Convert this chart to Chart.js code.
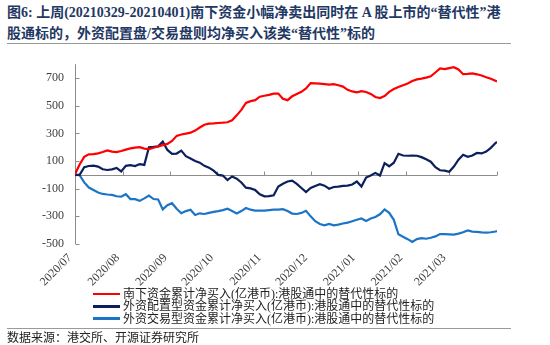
<!DOCTYPE html>
<html>
<head>
<meta charset="utf-8">
<script src="https://cdn.jsdelivr.net/npm/chart.js@4.4.1/dist/chart.umd.min.js"></script>
<style>
  body { margin: 0; width: 550px; height: 345px; background: #fff; position: relative; overflow: hidden;
         font-family: "Liberation Serif", "Noto Sans CJK SC", serif; color: #222; }
  #title { position: absolute; left: 7px; top: 2px; width: 545px; font-size: 14px; font-weight: bold;
           line-height: 21px; color: #1F3864; white-space: nowrap; }
  .rule { position: absolute; left: 7px; width: 504px; height: 1px; background: #9a9a9a; }
  #wrap { position: absolute; left: 0; top: 46px; width: 550px; height: 246px; }
  #legend { position: absolute; left: 93px; top: 288px; font-size: 12px; line-height: 12.3px; }
  #legend .row { display: flex; align-items: center; height: 12.3px; white-space: nowrap; }
  #legend .sw { width: 27px; height: 2.5px; margin-right: 3px; }
  #source { position: absolute; left: 7px; top: 332px; font-size: 12px; line-height: 13px; color: #222; }
</style>
</head>
<body>
<div id="title">图6: 上周(20210329-20210401)南下资金小幅净卖出同时在 A 股上市的“替代性”港<br>股通标的，外资配置盘/交易盘则均净买入该类“替代性”标的</div>
<div class="rule" style="top:43px"></div>
<div id="wrap"><canvas id="chart" width="550" height="246"></canvas></div>
<div id="legend"></div>
<div class="rule" style="top:328px"></div>
<div id="source">数据来源：港交所、开源证券研究所</div>

<script>
// x = calendar days since 2020-07-01, sampled every 3 days (last point = 2021-04-01)
const DAYS = [];
for (let d = 0; d <= 273; d += 3) DAYS.push(d);
DAYS.push(274);

const MONTH_DAYS = [0, 31, 62, 92, 123, 153, 184, 215, 243, 274];
const MONTH_LABELS = ['2020/07', '2020/08', '2020/09', '2020/10', '2020/11', '2020/12', '2021/01', '2021/02', '2021/03'];
const Y_TICKS = [-500, -300, -100, 100, 300, 500, 700];

const SERIES_NAMES = [
  '南下资金累计净买入(亿港币):港股通中的替代性标的',
  '外资配置型资金累计净买入(亿港币):港股通中的替代性标的',
  '外资交易型资金累计净买入(亿港币):港股通中的替代性标的'
];
const SERIES_COLORS = ['#FF0000', '#0B1F5C', '#1C74C6'];

const SOUTHBOUND = [
  5, 75, 130, 148, 150, 155, 165, 177, 168, 165,
  172, 182, 191, 197, 200, 190, 186, 196, 205, 215,
  224, 245, 282, 292, 298, 305, 320, 342, 362, 370,
  372, 375, 377, 380, 395, 430, 470, 520, 533, 540,
  565, 572, 578, 587, 588, 550, 540, 568, 585, 600,
  625, 663, 662, 659, 656, 653, 656, 648, 638, 615,
  603, 597, 605, 599, 585, 563, 555, 570, 600, 620,
  635, 648, 660, 678, 690, 696, 703, 712, 740, 769,
  764, 772, 778, 762, 728, 730, 733, 727, 718, 706,
  695, 680, 675
];
const FOREIGN_ALLOC = [
  0, 0, 55, 64, 66, 60, 40, 35, 40, 50,
  25, 65, 70, 64, 78, 72, 200, 202, 206, 240,
  180, 152, 154, 175, 135, 118, 100, 88, 65, 52,
  30, 0, -5, -38, -12, -28, -55, -93, -98, -110,
  -140, -155, -154, -148, -85, -65, -48, -42, -65, -95,
  -125, -95, -80, -68, -78, -100, -88, -85, -80, -78,
  -70, -48, -85, -20, -5, 14, -5, 85, 62, 88,
  152, 140, 138, 140, 138, 128, 112, 95, 55, 33,
  30, 22, 60, 110, 145, 130, 140, 158, 155, 168,
  195, 230, 238
];
const FOREIGN_TRADE = [
  0, -3, -55, -92, -110, -128, -138, -142, -145, -155,
  -158, -140, -175, -176, -188, -170, -150, -175, -178, -250,
  -220, -205, -245, -278, -262, -252, -290, -278, -283, -275,
  -268, -262, -255, -245, -262, -280, -262, -240, -252, -258,
  -258, -258, -255, -252, -252, -248, -262, -280, -283, -275,
  -260, -300, -335, -355, -365, -355, -365, -360, -352, -345,
  -335, -325, -315, -333, -315, -305, -285, -250, -275, -325,
  -430, -448, -465, -485, -465, -458, -462, -455, -445, -428,
  -428, -430, -432, -425, -415, -402, -410, -413, -416, -418,
  -415, -410, -406
];

const SERIES = [SOUTHBOUND, FOREIGN_ALLOC, FOREIGN_TRADE];
const FONT = '"Liberation Serif", "Noto Sans CJK SC", serif';

// zero line with month marks, and the y axis with inward ticks
const axisDecor = {
  id: 'axisDecor',
  beforeDatasetsDraw(chart) {
    const { ctx, chartArea: a, scales: { x, y } } = chart;
    ctx.save();
    ctx.strokeStyle = '#8c8c8c';
    ctx.lineWidth = 1;
    ctx.beginPath();
    const y0 = Math.round(y.getPixelForValue(0)) + 0.5;
    ctx.moveTo(a.left, y0);
    ctx.lineTo(a.right, y0);
    MONTH_DAYS.forEach(d => {
      const px = Math.round(x.getPixelForValue(d)) + 0.5;
      ctx.moveTo(px, y0);
      ctx.lineTo(px, y0 - 4);
    });
    const lx = Math.round(a.left) + 0.5;
    ctx.moveTo(lx, a.top);
    ctx.lineTo(lx, a.bottom);
    Y_TICKS.forEach(v => {
      const py = Math.round(y.getPixelForValue(v)) + 0.5;
      ctx.moveTo(lx, py);
      ctx.lineTo(lx + 4, py);
    });
    ctx.stroke();
    ctx.restore();
  }
};

new Chart(document.getElementById('chart'), {
  type: 'line',
  data: {
    datasets: SERIES.map((vals, i) => ({
      label: SERIES_NAMES[i],
      data: DAYS.map((d, k) => ({ x: d, y: vals[k] })),
      borderColor: SERIES_COLORS[i],
      borderWidth: 2.2,
      pointRadius: 0,
      tension: 0,
      fill: false
    }))
  },
  options: {
    responsive: false,
    animation: false,
    devicePixelRatio: 1,
    layout: { padding: { left: 0, right: 53, top: 9.6, bottom: 0 } },
    plugins: { legend: { display: false }, tooltip: { enabled: false } },
    scales: {
      x: {
        type: 'linear',
        min: 0,
        max: 274,
        afterBuildTicks: s => { s.ticks = MONTH_DAYS.slice(0, MONTH_LABELS.length).map(v => ({ value: v })); },
        afterFit: s => { s.height = 48; },
        grid: { display: false, drawTicks: false },
        border: { display: false },
        ticks: {
          autoSkip: false,
          maxRotation: 45,
          minRotation: 45,
          padding: 7,
          labelOffset: -5,
          color: '#404040',
          font: { family: FONT, size: 12 },
          callback: v => MONTH_LABELS[MONTH_DAYS.indexOf(v)]
        }
      },
      y: {
        min: -500,
        max: 800,
        afterBuildTicks: s => { s.ticks = Y_TICKS.map(v => ({ value: v })); },
        afterFit: s => { s.width = 75; },
        grid: { display: false, drawTicks: false },
        border: { display: false },
        ticks: {
          padding: 11,
          color: '#404040',
          font: { family: FONT, size: 12 }
        }
      }
    }
  },
  plugins: [axisDecor]
});

document.getElementById('legend').innerHTML = SERIES_NAMES.map((n, i) =>
  `<div class="row"><span class="sw" style="background:${SERIES_COLORS[i]}"></span>${n}</div>`).join('');
</script>
</body>
</html>
